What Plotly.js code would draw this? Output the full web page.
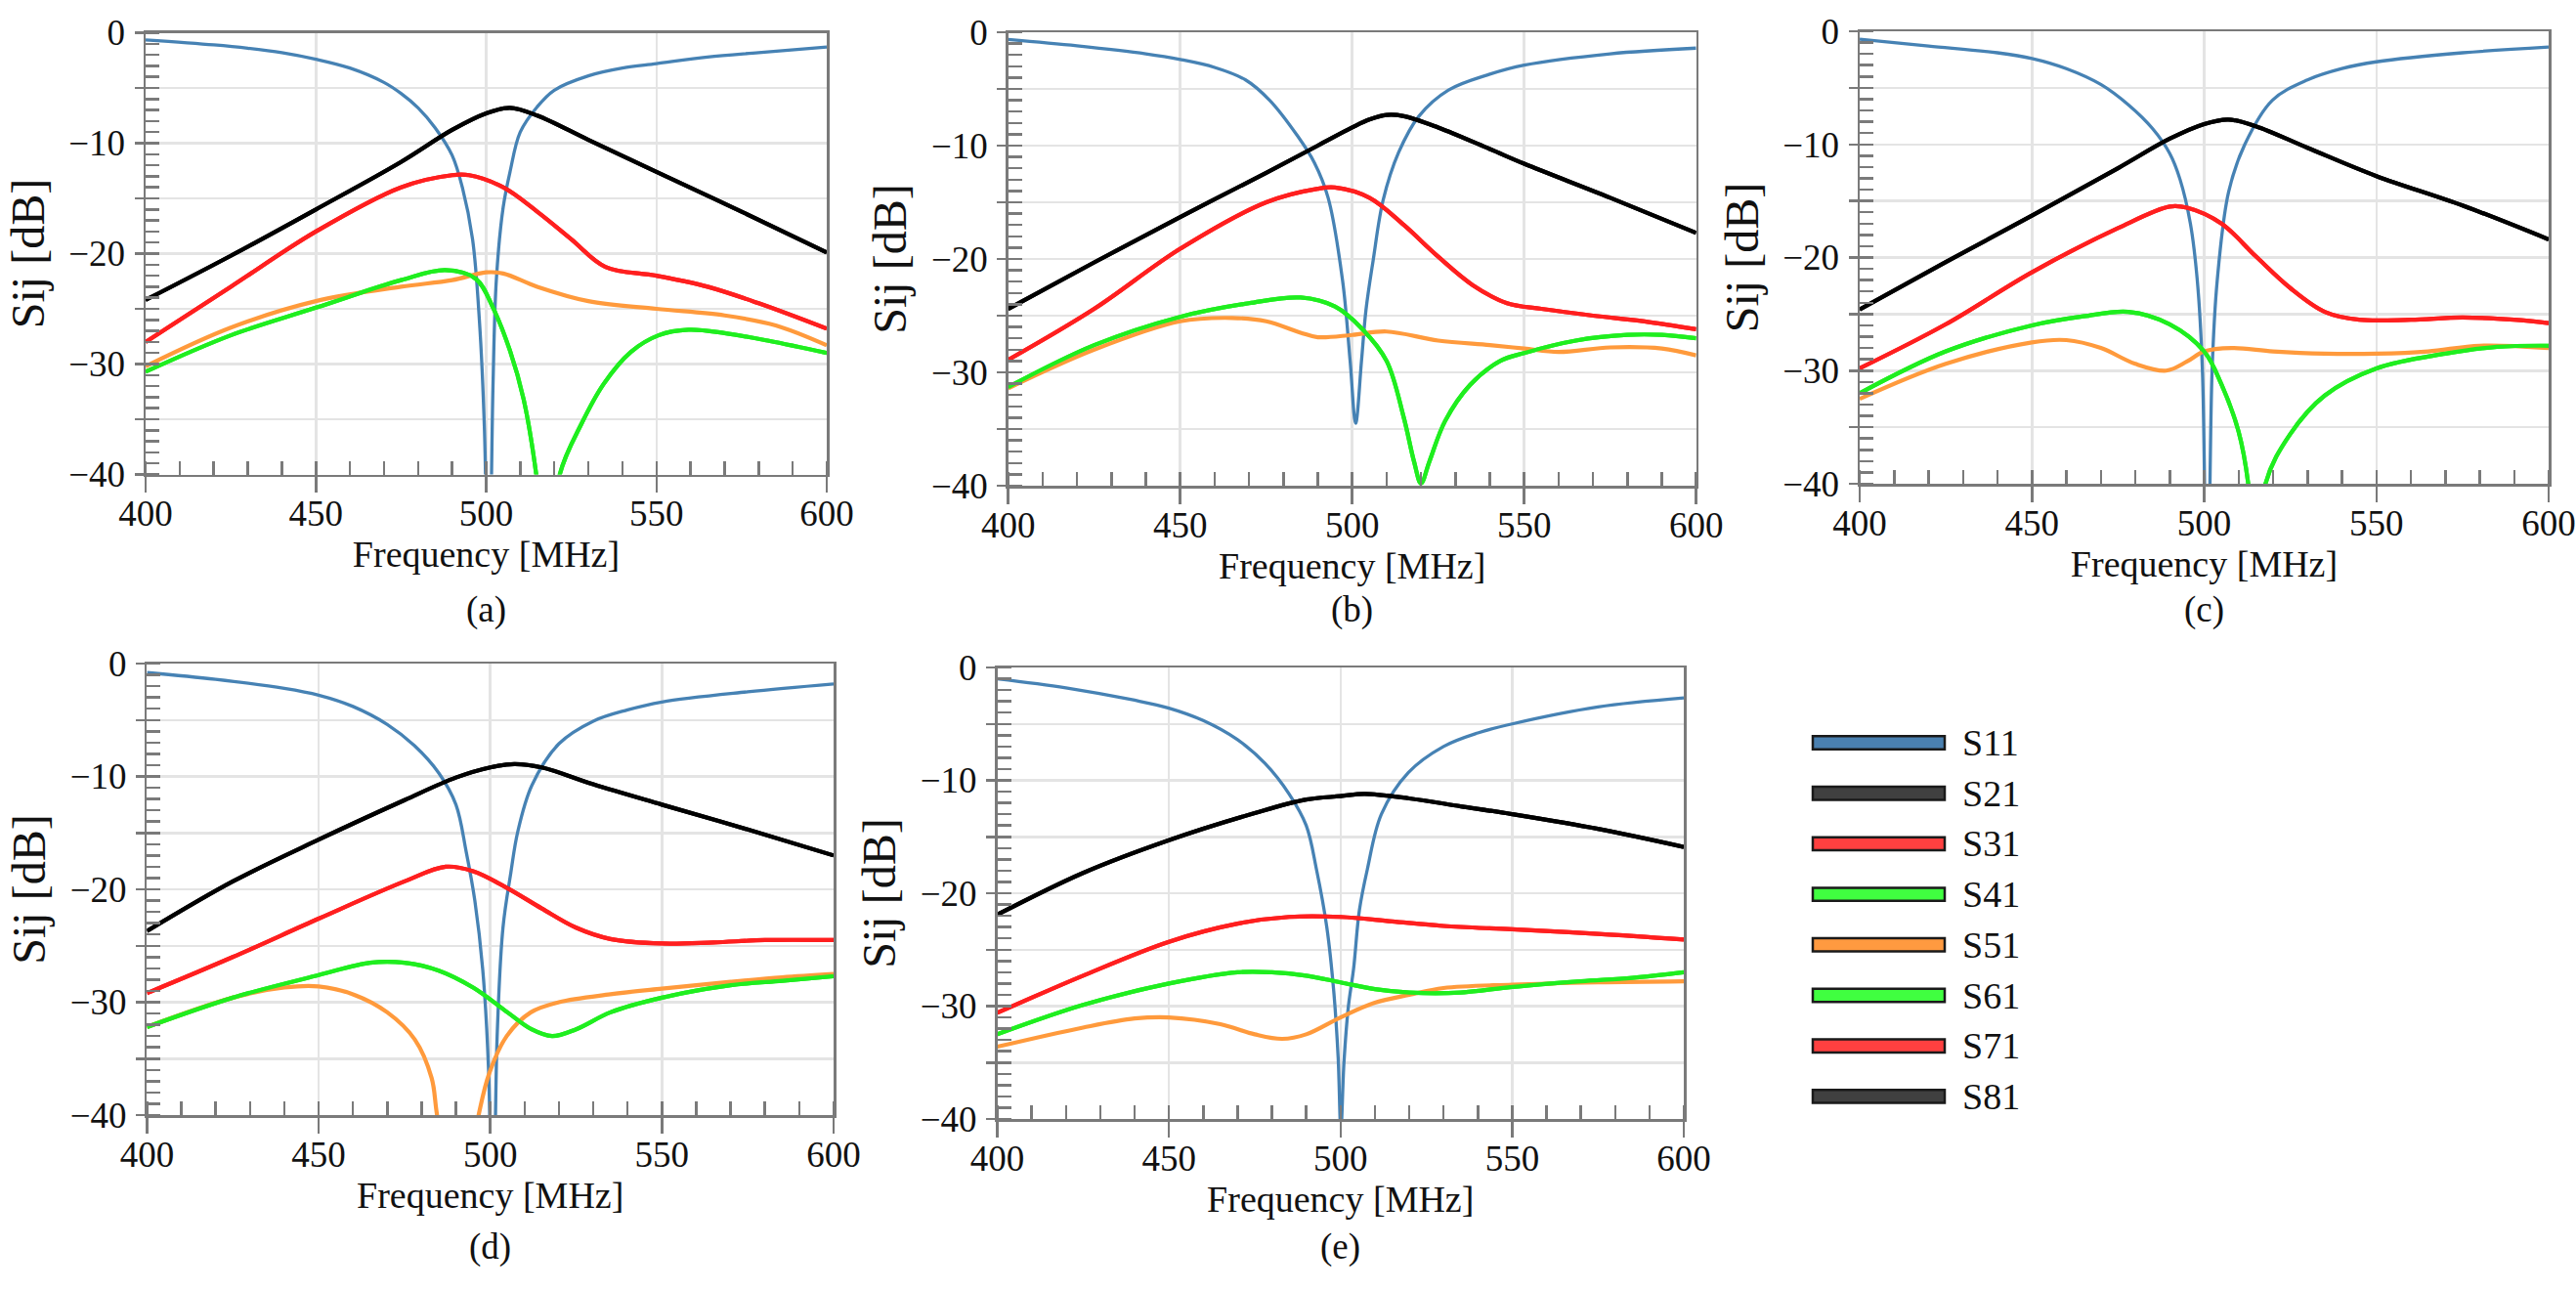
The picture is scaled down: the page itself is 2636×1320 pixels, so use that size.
<!DOCTYPE html>
<html>
<head>
<meta charset="utf-8">
<script src="https://cdn.plot.ly/plotly-3.0.1.min.js"></script>
<style>
html, body { margin: 0; padding: 0; background: #ffffff; }
#chart { width: 2636px; height: 1320px; }
</style>
</head>
<body>
<div id="chart"></div>
<script>
// ---------------- DATA ----------------
const seriesNames = ['S11', 'S21', 'S31', 'S41', 'S51', 'S61', 'S71', 'S81'];
const panelLabels = ['(a)', '(b)', '(c)', '(d)', '(e)'];
const freqTickVals = [400, 450, 500, 550, 600];
const freqTickText = ['400', '450', '500', '550', '600'];
const dbTickVals = [0, -5, -10, -15, -20, -25, -30, -35, -40];
const dbTickText = ['0', '', '\u221210', '', '\u221220', '', '\u221230', '', '\u221240'];

// ---- panel (a) ----
const a_S11_f  = [400,420,430,440,450,460,470,475,480,485,490,493,496,498,499.5,500.7,502,503,505,507,510,515,520,530,540,550,565,580,600];
const a_S11_db = [-0.65,-1.1,-1.4,-1.8,-2.4,-3.2,-4.5,-5.5,-6.8,-8.6,-11.1,-14,-18.7,-26,-36,-55,-32,-22.3,-15.8,-12.6,-9,-6.7,-5.2,-3.9,-3.2,-2.8,-2.2,-1.8,-1.3];
const a_S21_f  = [400,425,450,475,490,500,507,515,530,550,575,600];
const a_S21_db = [-24.2,-20.2,-16,-11.7,-8.8,-7.3,-6.8,-7.5,-9.7,-12.6,-16.2,-19.9];
const a_S31_f  = [400,425,450,475,490,495,505,515,525,535,550,565,580,600];
const a_S31_db = [-28,-23,-18,-14,-12.9,-12.9,-14,-16.2,-18.7,-21.2,-22,-23,-24.5,-26.8];
const a_S41_f  = [400,425,450,475,488,497,502,507,511,514.7,518,521.6,528,534.5,542.5,550.6,559.4,570,583,600];
const a_S41_db = [-30.7,-27.4,-24.9,-22.4,-21.5,-22.3,-24.9,-28.8,-33.2,-40,-50,-40,-35.4,-31.8,-28.9,-27.4,-26.9,-27.2,-27.9,-29];
const a_S51_f  = [400,425,450,475,490,500,505,515,530,550,570,585,600];
const a_S51_db = [-30.2,-26.7,-24.3,-23,-22.4,-21.7,-21.8,-23,-24.3,-25,-25.6,-26.5,-28.3];

// ---- panel (b) ----
const b_S11_f  = [400,420,440,450,460,469,476,484,489,493,497.2,499.4,501,502.7,504,506.1,509,513.5,519.4,528,540,550,575,600];
const b_S11_db = [-0.64,-1.2,-1.9,-2.4,-3.1,-4.2,-6,-9.1,-11.5,-14.6,-21.9,-29,-34.5,-29,-24.5,-20.1,-14.8,-10.6,-7.4,-5.1,-3.7,-2.9,-1.9,-1.4];
const b_S21_f  = [400,425,450,475,490,500,505,510,515,525,540,550,575,600];
const b_S21_db = [-24.4,-20.3,-16.3,-12.4,-10,-8.4,-7.7,-7.3,-7.4,-8.4,-10.3,-11.6,-14.6,-17.7];
const b_S31_f  = [400,425,450,475,490,495,505,515,525,535,545,555,570,585,600];
const b_S31_db = [-28.9,-24.4,-19.1,-15,-13.8,-13.7,-14.6,-17,-19.8,-22.3,-23.9,-24.4,-25,-25.5,-26.2];
const b_S41_f  = [400,425,450,470,485,495,503,510,515,518,520,522.4,527,534.3,543,550,565,580,590,600];
const b_S41_db = [-31.3,-27.6,-25.1,-23.9,-23.4,-24.2,-26.2,-29,-34,-37.9,-39.8,-37.9,-34.3,-31.1,-29,-28.3,-27.2,-26.7,-26.7,-27];
const b_S51_f  = [400,425,450,465,475,485,490,500,510,525,540,550,560,575,590,600];
const b_S51_db = [-31.4,-28,-25.5,-25.2,-25.5,-26.5,-26.9,-26.7,-26.4,-27.2,-27.6,-27.9,-28.2,-27.8,-27.9,-28.5];

// ---- panel (c) ----
const c_S11_f  = [400,420,440,450,460,470,478,485,490,493,496,498,499.5,500.9,502.3,503.8,507.1,511.8,519.8,530,540,550,575,600];
const c_S11_db = [-0.7,-1.3,-1.9,-2.4,-3.3,-4.7,-6.5,-8.6,-10.8,-13.1,-17,-22,-30,-55,-30,-22,-14.2,-10,-6.1,-4.3,-3.3,-2.7,-1.9,-1.4];
const c_S21_f  = [400,425,450,475,490,500,507,515,530,550,575,600];
const c_S21_db = [-24.6,-20.4,-16.3,-12.1,-9.5,-8.2,-7.8,-8.4,-10.3,-12.8,-15.4,-18.4];
const c_S31_f  = [400,425,450,475,490,495,505,515,525,535,545,560,575,590,600];
const c_S31_db = [-29.8,-25.9,-21.3,-17.4,-15.5,-15.6,-17,-19.9,-22.7,-24.8,-25.5,-25.5,-25.3,-25.5,-25.8];
const c_S41_f  = [400,425,450,465,478,490,500,505,510,512.8,515.3,517.8,525,535,550,570,585,600];
const c_S41_db = [-32,-28.3,-26,-25.2,-24.8,-25.9,-28.3,-31.2,-35.4,-40,-50,-40,-35.6,-32.2,-29.8,-28.5,-27.9,-27.8];
const c_S51_f  = [400,425,450,460,470,480,489,495,500,508,520,535,550,565,580,600];
const c_S51_db = [-32.5,-29.4,-27.5,-27.3,-28,-29.4,-30,-29.2,-28.3,-28,-28.3,-28.5,-28.5,-28.3,-27.8,-28];

// ---- panel (d) ----
const d_S11_f  = [400,420,440,450,460,470,478,485,490,493,495.5,497.8,499.5,500.7,502,503.7,506,508,512.1,520,530,540,550,575,600];
const d_S11_db = [-0.8,-1.4,-2.2,-2.8,-3.8,-5.4,-7.3,-9.7,-12.5,-16.7,-21,-27.1,-36,-55,-33,-23.4,-18.5,-14.9,-10.8,-7.1,-5.1,-4.1,-3.4,-2.5,-1.8];
const d_S21_f  = [400,425,450,475,490,500,507,515,530,550,575,600];
const d_S21_db = [-23.7,-19.3,-15.6,-12.1,-10.1,-9.2,-8.9,-9.2,-10.7,-12.5,-14.7,-17];
const d_S31_f  = [400,425,450,475,487,495,505,515,525,535,550,565,580,600];
const d_S31_db = [-29.2,-26,-22.6,-19.3,-18,-18.4,-19.9,-21.7,-23.4,-24.4,-24.8,-24.7,-24.5,-24.5];
const d_S41_f  = [400,425,450,465,475,485,495,505,512,518,525,535,550,570,585,600];
const d_S41_db = [-32.2,-29.6,-27.6,-26.5,-26.5,-27.2,-28.7,-30.9,-32.4,-33,-32.4,-30.9,-29.6,-28.5,-28.1,-27.7];
const d_S51_f  = [400,425,440,450,460,470,478,482.9,484.5,490.5,496.6,499.7,504.8,511.8,520,535,550,570,585,600];
const d_S51_db = [-32.2,-29.6,-28.7,-28.6,-29.3,-30.9,-33.3,-36.7,-40,-50,-40,-36.3,-33,-30.9,-30,-29.3,-28.8,-28.2,-27.8,-27.5];

// ---- panel (e) ----
const e_S11_f  = [400,420,440,450,460,470,478,485,490,493,496,498,499.3,500.1,501,502.3,503.8,505.5,507.8,511.9,519.8,530,540,550,575,600];
const e_S11_db = [-1,-1.8,-2.9,-3.6,-4.7,-6.4,-8.5,-11.2,-14,-17.9,-23,-28.6,-34.5,-41,-35,-30,-26.7,-21.5,-17.9,-13,-9.3,-7,-5.8,-5,-3.5,-2.7];
const e_S21_f  = [400,425,450,475,490,500,507,520,535,550,575,600];
const e_S21_db = [-21.9,-18.2,-15.3,-12.9,-11.7,-11.4,-11.2,-11.6,-12.3,-13,-14.3,-15.9];
const e_S31_f  = [400,425,450,470,485,500,515,530,550,575,600];
const e_S31_db = [-30.6,-27.3,-24.3,-22.7,-22.1,-22.1,-22.5,-22.9,-23.2,-23.6,-24.1];
const e_S41_f  = [400,425,450,470,480,490,500,510,520,535,550,570,585,600];
const e_S41_db = [-32.5,-29.9,-28,-27,-27,-27.3,-27.9,-28.5,-28.8,-28.8,-28.3,-27.8,-27.5,-27];
const e_S51_f  = [400,425,440,450,465,475,483,490,500,510,520,530,550,575,600];
const e_S51_db = [-33.6,-31.9,-31.1,-31,-31.6,-32.5,-32.9,-32.5,-31,-29.7,-29,-28.4,-28.1,-27.9,-27.8];

// ---------------- STYLE / LAYOUT ----------------
const W = 2636, H = 1320;
const SERIF = 'Liberation Serif, Times New Roman, serif';
const lineColors = { S11: '#4682b4', S21: '#000000', S31: '#ff1f1f', S41: '#1fee1f', S51: '#ff9a3c', S61: '#1fee1f', S71: '#ff1f1f', S81: '#000000' };
const lineWidths = { S11: 3.3, S21: 4.2, S31: 4.2, S41: 4.2, S51: 4.2, S61: 4.2, S71: 4.2, S81: 4.2 };
const legendFill = { S11: '#4a80b0', S21: '#404040', S31: '#ff4040', S41: '#40ff40', S51: '#ff9a40', S61: '#40ff40', S71: '#ff4040', S81: '#404040' };

// plot frames in pixels: [left, right, top, bottom]
const frames = [
  [149, 846, 33.5, 485.5],
  [1031.7, 1735.7, 33, 497],
  [1903, 2608, 32, 495],
  [150.4, 853, 679, 1141],
  [1020.5, 1723, 683, 1145]
];
const captionY = [624, 624, 624, 1276, 1276];

const panelData = [
  { S11: [a_S11_f, a_S11_db], S21: [a_S21_f, a_S21_db], S31: [a_S31_f, a_S31_db], S41: [a_S41_f, a_S41_db], S51: [a_S51_f, a_S51_db] },
  { S11: [b_S11_f, b_S11_db], S21: [b_S21_f, b_S21_db], S31: [b_S31_f, b_S31_db], S41: [b_S41_f, b_S41_db], S51: [b_S51_f, b_S51_db] },
  { S11: [c_S11_f, c_S11_db], S21: [c_S21_f, c_S21_db], S31: [c_S31_f, c_S31_db], S41: [c_S41_f, c_S41_db], S51: [c_S51_f, c_S51_db] },
  { S11: [d_S11_f, d_S11_db], S21: [d_S21_f, d_S21_db], S31: [d_S31_f, d_S31_db], S41: [d_S41_f, d_S41_db], S51: [d_S51_f, d_S51_db] },
  { S11: [e_S11_f, e_S11_db], S21: [e_S21_f, e_S21_db], S31: [e_S31_f, e_S31_db], S41: [e_S41_f, e_S41_db], S51: [e_S51_f, e_S51_db] }
];
// S61, S71, S81 coincide with S41, S31, S21 in every panel
const sameAs = { S61: 'S41', S71: 'S31', S81: 'S21' };

const traces = [];
const layout = {
  width: W, height: H,
  margin: { l: 0, r: 0, t: 0, b: 0, pad: 0 },
  paper_bgcolor: '#ffffff', plot_bgcolor: '#ffffff',
  showlegend: false,
  font: { family: SERIF, color: '#111111' },
  annotations: [],
  shapes: []
};

const AXC = '#7a7a7a';
frames.forEach((fr, i) => {
  const n = i + 1;
  const xid = 'x' + (n === 1 ? '' : n), yid = 'y' + (n === 1 ? '' : n);
  const xkey = 'xaxis' + (n === 1 ? '' : n), ykey = 'yaxis' + (n === 1 ? '' : n);
  layout[xkey] = {
    domain: [fr[0] / W, fr[1] / W], anchor: yid,
    range: [400, 600], fixedrange: true,
    tickmode: 'array', tickvals: freqTickVals, ticktext: freqTickText,
    ticks: 'outside', ticklen: 16, tickwidth: 2.5, tickcolor: AXC,
    ticklabelstandoff: -10,
    showline: true, linecolor: AXC, linewidth: 2.5, mirror: true,
    showgrid: true, gridcolor: '#e4e4e4', gridwidth: 2.5, zeroline: false,
    tickfont: { family: SERIF, size: 37, color: '#111' },
    minor: { tickmode: 'linear', tick0: 400, dtick: 10, ticks: 'inside', ticklen: 14, tickwidth: 2.5, tickcolor: AXC, showgrid: false },
    title: { text: 'Frequency [MHz]', font: { family: SERIF, size: 38, color: '#111' }, standoff: 7 }
  };
  layout[ykey] = {
    domain: [1 - fr[3] / H, 1 - fr[2] / H], anchor: xid,
    range: [-40, 0], fixedrange: true,
    tickmode: 'array', tickvals: dbTickVals, ticktext: dbTickText,
    ticks: 'outside', ticklen: 9, tickwidth: 2.5, tickcolor: AXC,
    ticklabelstandoff: 2,
    showline: true, linecolor: AXC, linewidth: 2.5, mirror: true,
    showgrid: true, gridcolor: '#e4e4e4', gridwidth: 2.5, zeroline: false,
    tickfont: { family: SERIF, size: 37, color: '#111' },
    minor: { tickmode: 'linear', tick0: 0, dtick: 1, ticks: 'inside', ticklen: 14, tickwidth: 2.5, tickcolor: AXC, showgrid: false },
    title: { text: 'Sij [dB]', font: { family: SERIF, size: 48, color: '#111' }, standoff: 10 }
  };
  seriesNames.forEach(name => {
    const src = panelData[i][sameAs[name] || name];
    traces.push({
      type: 'scatter', mode: 'lines', name: name,
      x: src[0], y: src[1], xaxis: xid, yaxis: yid,
      line: { color: lineColors[name], width: lineWidths[name], shape: 'spline', smoothing: 1 },
      hoverinfo: 'skip', showlegend: false
    });
  });
  layout.annotations.push({
    xref: 'paper', yref: 'paper', x: (fr[0] + fr[1]) / 2 / W, y: 1 - captionY[i] / H,
    xanchor: 'center', yanchor: 'middle', showarrow: false,
    text: panelLabels[i], font: { family: SERIF, size: 37, color: '#111' }
  });
});

// legend drawn as outlined bars with text labels
const legX0 = 1855, legX1 = 1990, legTextX = 2006, legY0 = 760, legDy = 51.7, legHalf = 6.7;
seriesNames.forEach((name, k) => {
  const cy = legY0 + k * legDy;
  layout.shapes.push({
    type: 'rect', xref: 'paper', yref: 'paper',
    x0: legX0 / W, x1: legX1 / W, y0: 1 - (cy + legHalf) / H, y1: 1 - (cy - legHalf) / H,
    fillcolor: legendFill[name], line: { color: '#1a1a1a', width: 2.5 }
  });
  layout.annotations.push({
    xref: 'paper', yref: 'paper', x: legTextX / W, y: 1 - cy / H,
    xanchor: 'left', yanchor: 'middle', showarrow: false,
    text: name, font: { family: SERIF, size: 38, color: '#111' }
  });
});

Plotly.newPlot('chart', traces, layout, { staticPlot: true, displayModeBar: false });
</script>
</body>
</html>
